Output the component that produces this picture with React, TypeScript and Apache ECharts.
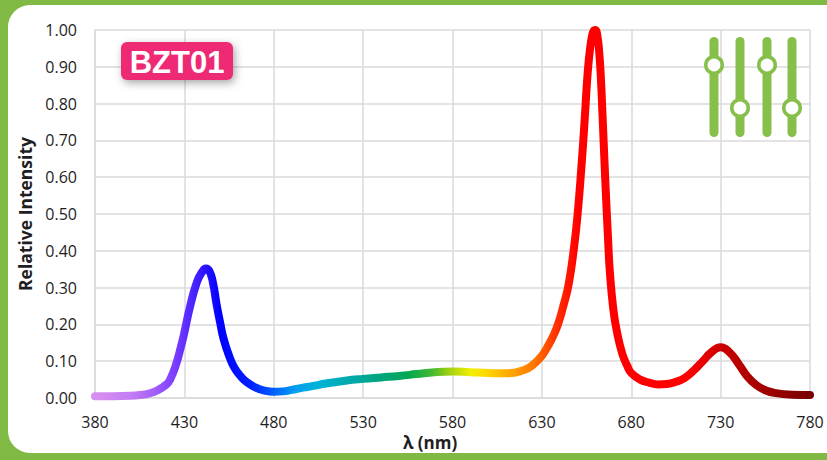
import React, { useEffect, useRef } from "react";
import * as echarts from "echarts";

// Wavelength (nm) and relative intensity
const wavelengths = [
  380, 390, 400, 405, 410, 415, 420, 422, 425, 428, 430, 433, 437, 440, 442, 444, 446, 448, 450, 452,
  455, 458, 462, 465, 470, 475, 480, 485, 490, 495, 500, 510, 520, 530, 540, 550, 560, 570, 580, 590,
  600, 610, 620, 625, 630, 633, 636, 639, 642, 645, 648, 650, 652, 654, 655, 656, 657, 658, 659, 660,
  661, 662, 663, 664, 665, 666, 667, 668, 670, 672, 675, 678, 680, 685, 690, 695, 700, 705, 710, 715,
  720, 725, 730, 735, 740, 745, 750, 755, 760, 770, 780,
];
const intensities = [
  0.005, 0.005, 0.006, 0.008, 0.012, 0.021, 0.037, 0.05, 0.086, 0.138, 0.178, 0.245, 0.315, 0.343, 0.352, 0.345, 0.313, 0.255, 0.205, 0.16,
  0.115, 0.082, 0.056, 0.043, 0.028, 0.02, 0.017, 0.018, 0.022, 0.027, 0.031, 0.04, 0.047, 0.052, 0.056, 0.06, 0.065, 0.07, 0.072, 0.07,
  0.068, 0.067, 0.076, 0.09, 0.115, 0.138, 0.165, 0.2, 0.25, 0.31, 0.41, 0.5, 0.62, 0.76, 0.84, 0.905, 0.95, 0.982, 0.998, 1.0,
  0.985, 0.945, 0.87, 0.76, 0.645, 0.535, 0.435, 0.345, 0.24, 0.18, 0.12, 0.085, 0.068, 0.05, 0.042, 0.037, 0.038, 0.044, 0.055, 0.075,
  0.1, 0.125, 0.138, 0.124, 0.093, 0.058, 0.035, 0.021, 0.014, 0.009, 0.008,
];
const xMin = 380;
const xMax = 780;
const xStep = 50;
const yTicks = [0, 0.1, 0.2, 0.3, 0.4, 0.5, 0.6, 0.7, 0.8, 0.9, 1.0];

// spectrum colours along the wavelength axis
const spectrumStops: [number, string][] = [
  [380, "#d890f0"],
  [400, "#c47cf4"],
  [412, "#a862f8"],
  [425, "#7a3cff"],
  [438, "#3d1cff"],
  [450, "#0000ff"],
  [468, "#0022ff"],
  [480, "#0060ff"],
  [492, "#009ef0"],
  [505, "#00b4d6"],
  [520, "#00aab2"],
  [540, "#00a47c"],
  [555, "#00a852"],
  [568, "#40b830"],
  [578, "#a0d010"],
  [590, "#f0f000"],
  [600, "#ffd400"],
  [612, "#ffa800"],
  [625, "#ff7800"],
  [640, "#ff2800"],
  [650, "#ff0000"],
  [712, "#ff0000"],
  [730, "#cc0000"],
  [755, "#a00000"],
  [780, "#7a0000"],
];

const GREEN = "#86bf4a";
const BG_GREEN = "#80ba45";
const PINK = "#ee2c74";

export default function App() {
  const ref = useRef<HTMLDivElement>(null);

  useEffect(() => {
    if (!ref.current) return;
    const chart = echarts.init(ref.current, null, { renderer: "svg" });
    const data = wavelengths.map((w, i) => [w - xMin, intensities[i]]);
    const gradient = new echarts.graphic.LinearGradient(
      0,
      0,
      1,
      0,
      spectrumStops.map(([w, c]) => ({ offset: (w - xMin) / (xMax - xMin), color: c }))
    );
    const gridColor = "#dadada";
    const labelStyle = {
      fontFamily: "Open Sans",
      fontSize: 16,
      color: "#1e1e1e",
    };

    const sliderX = [714, 740, 767, 792];
    const knobY = [65, 108, 65, 108];
    const sliderEls: any[] = [];
    sliderX.forEach((x) => {
      sliderEls.push({
        type: "rect",
        shape: { x: x - 4.5, y: 37, width: 9, height: 100, r: 4.5 },
        style: { fill: GREEN },
        z: 10,
      });
    });
    sliderX.forEach((x, i) => {
      sliderEls.push({
        type: "circle",
        shape: { cx: x, cy: knobY[i], r: 8.2 },
        style: { fill: "#ffffff", stroke: GREEN, lineWidth: 3.6 },
        z: 11,
      });
    });

    chart.setOption({
      animation: false,
      grid: { left: 95, right: 17, top: 30, bottom: 62, containLabel: false },
      xAxis: {
        type: "value",
        min: 0,
        max: xMax - xMin,
        interval: xStep,
        axisLine: { show: true, lineStyle: { color: gridColor, width: 1.5 } },
        axisTick: { show: false },
        axisLabel: {
          ...labelStyle,
          margin: 16,
          formatter: (v: number) => String(v + xMin),
        },
        splitLine: { show: true, lineStyle: { color: gridColor, width: 1.5 } },
      },
      yAxis: {
        type: "value",
        min: yTicks[0],
        max: yTicks[yTicks.length - 1],
        interval: 0.1,
        name: "Relative Intensity",
        nameLocation: "middle",
        nameGap: 58,
        nameTextStyle: {
          fontFamily: "Open Sans",
          fontWeight: "bold",
          fontSize: 17.5,
          color: "#1e1e1e",
        },
        axisLine: { show: true, lineStyle: { color: gridColor, width: 1.5 } },
        axisTick: { show: false },
        axisLabel: {
          ...labelStyle,
          margin: 18,
          formatter: (v: number) => v.toFixed(2),
        },
        splitLine: { show: true, lineStyle: { color: gridColor, width: 1.5 } },
      },
      series: [
        {
          type: "line",
          data,
          smooth: 0.5,
          symbol: "none",
          lineStyle: { width: 8, color: gradient, cap: "round", join: "round" },
          z: 5,
        },
      ],
      graphic: [
        {
          type: "text",
          x: 430,
          y: 442,
          style: {
            text: "λ (nm)",
            fontFamily: "Open Sans",
            fontWeight: "bold",
            fontSize: 17,
            fill: "#1e1e1e",
            align: "center",
            verticalAlign: "middle",
          },
        },
        {
          type: "group",
          z: 20,
          children: [
            {
              type: "rect",
              shape: { x: 121, y: 42, width: 112, height: 38, r: 6 },
              style: {
                fill: PINK,
                shadowBlur: 8,
                shadowColor: "rgba(0,0,0,0.35)",
                shadowOffsetX: 2,
                shadowOffsetY: 3,
              },
              z: 20,
            },
            {
              type: "text",
              x: 177,
              y: 62,
              style: {
                text: "BZT01",
                fontFamily: "Liberation Sans",
                fontWeight: "bold",
                fontSize: 31,
                fill: "#ffffff",
                align: "center",
                verticalAlign: "middle",
              },
              z: 21,
            },
          ],
        },
        ...sliderEls,
      ],
    });
    return () => chart.dispose();
  }, []);

  return (
    <div
      style={{
        position: "fixed",
        left: 0,
        top: 0,
        width: 827,
        height: 460,
        background: BG_GREEN,
        overflow: "hidden",
      }}
    >
      <div
        style={{
          position: "absolute",
          left: 8,
          top: 5,
          width: 870,
          height: 448,
          borderRadius: 22,
          background: "#ffffff",
        }}
      />
      <div
        ref={ref}
        style={{ position: "absolute", left: 0, top: 0, width: 827, height: 460 }}
      />
    </div>
  );
}
